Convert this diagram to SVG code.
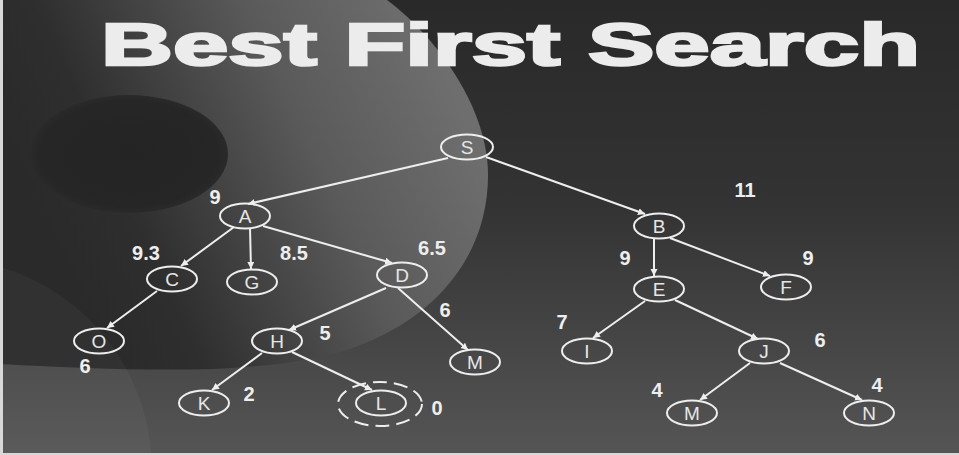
<svg xmlns="http://www.w3.org/2000/svg" width="959" height="455" viewBox="0 0 959 455">
<defs>
<linearGradient id="bg" x1="0" y1="0" x2="0" y2="455" gradientUnits="userSpaceOnUse">
<stop offset="0" stop-color="#292929"/>
<stop offset="0.45" stop-color="#333333"/>
<stop offset="1" stop-color="#555555"/>
</linearGradient>
<linearGradient id="big" x1="480" y1="150" x2="90" y2="330" gradientUnits="userSpaceOnUse">
<stop offset="0" stop-color="#6e6e6e"/>
<stop offset="0.35" stop-color="#5a5a5a"/>
<stop offset="0.8" stop-color="#2e2e2e"/>
<stop offset="1" stop-color="#2a2a2a"/>
</linearGradient>
<radialGradient id="spot" cx="0.5" cy="0.5" r="0.5">
<stop offset="0" stop-color="#242424"/>
<stop offset="0.9" stop-color="#262626"/>
<stop offset="1" stop-color="#2a2a2a"/>
</radialGradient>
<marker id="ah" markerWidth="8" markerHeight="8" refX="7" refY="3.5" orient="auto" markerUnits="userSpaceOnUse">
<path d="M0,0 L7,3.5 L0,7 Z" fill="#eeeeee"/>
</marker>
</defs>
<style>
.n ellipse{fill:none;stroke:#eeeeee;stroke-width:2}
.n text{font-family:"Liberation Sans",Arial,sans-serif;font-size:19px;fill:#e6e6e6;text-anchor:middle}
.e line{stroke:#eeeeee;stroke-width:2;marker-end:url(#ah)}
.lb{font-family:"Liberation Sans",Arial,sans-serif;font-size:20px;font-weight:bold;fill:#eeeeee;text-anchor:middle}
</style>
<rect x="0" y="0" width="959" height="455" fill="url(#bg)"/>
<path d="M387,0 C440,40 488,110 488,175 C488,260 430,325 340,352 C260,374 150,372 0,364 L0,0 Z" fill="url(#big)"/>
<ellipse cx="129" cy="154" rx="99" ry="59" fill="url(#spot)"/>
<circle cx="-60" cy="470" r="212" fill="#ffffff" fill-opacity="0.035"/>
<rect x="0" y="0" width="3" height="455" fill="#d8d8d8"/>
<rect x="0" y="453" width="959" height="2" fill="#d8d8d8"/>
<text x="101" y="65" font-family="'Liberation Sans',Arial,sans-serif" font-size="60" font-weight="bold" fill="#ececec" stroke="#ececec" stroke-width="2.5" textLength="819" lengthAdjust="spacingAndGlyphs">Best First Search</text>
<g id="connectors" class="e">
<line x1="448" y1="158" x2="248" y2="204"/>
<line x1="486" y1="157" x2="645" y2="214"/>
<line x1="234" y1="227" x2="181" y2="266"/>
<line x1="250" y1="228" x2="251" y2="269"/>
<line x1="263" y1="226" x2="392" y2="263"/>
<line x1="157" y1="291" x2="107" y2="328"/>
<line x1="386" y1="288" x2="289" y2="330"/>
<line x1="398" y1="288" x2="468" y2="350"/>
<line x1="262" y1="353" x2="212" y2="390"/>
<line x1="292" y1="352" x2="372" y2="390"/>
<line x1="654" y1="238" x2="654" y2="276"/>
<line x1="670" y1="238" x2="770" y2="276"/>
<line x1="645" y1="301" x2="593" y2="338"/>
<line x1="675" y1="300" x2="758" y2="339"/>
<line x1="750" y1="363" x2="700" y2="400"/>
<line x1="780" y1="363" x2="862" y2="400"/>
</g>
<g id="S" class="n"><ellipse cx="467" cy="147" rx="26" ry="12.5"/><text x="467" y="154">S</text></g>
<g id="A" class="n"><ellipse cx="245" cy="216" rx="25" ry="12.5"/><text x="245" y="223">A</text></g>
<g id="B" class="n"><ellipse cx="659" cy="226" rx="25" ry="12.5"/><text x="659" y="233">B</text></g>
<g id="C" class="n"><ellipse cx="172" cy="279" rx="25" ry="12.5"/><text x="172" y="286">C</text></g>
<g id="G" class="n"><ellipse cx="252" cy="282" rx="25" ry="12.5"/><text x="252" y="289">G</text></g>
<g id="D" class="n"><ellipse cx="402" cy="275" rx="25" ry="12.5"/><text x="402" y="282">D</text></g>
<g id="E" class="n"><ellipse cx="659" cy="289" rx="25" ry="12.5"/><text x="659" y="296">E</text></g>
<g id="F" class="n"><ellipse cx="786" cy="287" rx="25" ry="12.5"/><text x="786" y="294">F</text></g>
<g id="O" class="n"><ellipse cx="99" cy="341" rx="25" ry="12.5"/><text x="99" y="348">O</text></g>
<g id="H" class="n"><ellipse cx="277" cy="341" rx="25" ry="12.5"/><text x="277" y="348">H</text></g>
<g id="M1" class="n"><ellipse cx="475" cy="362" rx="25" ry="12.5"/><text x="475" y="369">M</text></g>
<g id="K" class="n"><ellipse cx="204" cy="403" rx="25" ry="12.5"/><text x="204" y="410">K</text></g>
<g id="L" class="n"><ellipse cx="381" cy="403" rx="25" ry="12.5"/><ellipse cx="380" cy="404" rx="42" ry="22" stroke-dasharray="14 7"/><text x="381" y="410">L</text></g>
<g id="I" class="n"><ellipse cx="587" cy="351" rx="25" ry="12.5"/><text x="587" y="358">I</text></g>
<g id="J" class="n"><ellipse cx="764" cy="351" rx="25" ry="12.5"/><text x="764" y="358">J</text></g>
<g id="M2" class="n"><ellipse cx="692" cy="413" rx="25" ry="12.5"/><text x="692" y="420">M</text></g>
<g id="N" class="n"><ellipse cx="869" cy="413" rx="25" ry="12.5"/><text x="869" y="420">N</text></g>
<g id="labels">
<text class="lb" x="215" y="204">9</text>
<text class="lb" x="745" y="197">11</text>
<text class="lb" x="146" y="260">9.3</text>
<text class="lb" x="294" y="260">8.5</text>
<text class="lb" x="432" y="255">6.5</text>
<text class="lb" x="625" y="265">9</text>
<text class="lb" x="808" y="265">9</text>
<text class="lb" x="445" y="317">6</text>
<text class="lb" x="325" y="340">5</text>
<text class="lb" x="85" y="373">6</text>
<text class="lb" x="249" y="401">2</text>
<text class="lb" x="437" y="415">0</text>
<text class="lb" x="562" y="329">7</text>
<text class="lb" x="820" y="347">6</text>
<text class="lb" x="657" y="397">4</text>
<text class="lb" x="877" y="392">4</text>
</g>
</svg>
